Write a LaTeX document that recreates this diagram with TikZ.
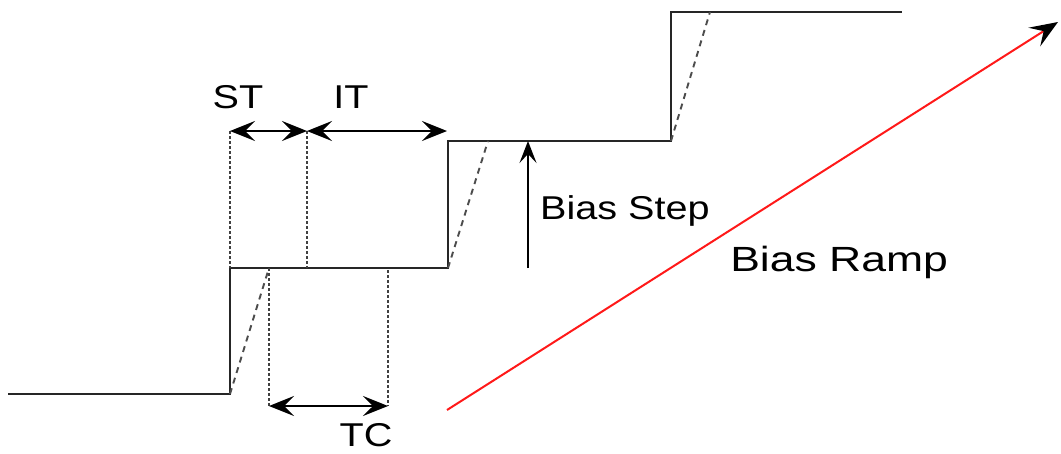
\documentclass[tikz,border=0pt]{standalone}
\usepackage{fontspec}
\setmainfont{Liberation Sans}
\usetikzlibrary{arrows.meta}
\begin{document}
\begin{tikzpicture}[x=1pt,y=-1pt,
  stair/.style={line width=2.8pt, black!85, line join=miter},
  slope/.style={line width=1.9pt, black!70, dash pattern=on 6pt off 5pt},
  guide/.style={line width=2pt, black!75, dash pattern=on 2.5pt off 2.5pt},
  span/.style={line width=1.9pt, {Stealth[length=25pt,width=20pt,inset=10pt]}-{Stealth[length=25pt,width=20pt,inset=10pt]}},
  lbl/.style={inner sep=0pt, font=\fontsize{33}{36}\selectfont, xscale=1.2},
]
\useasboundingbox (0,0) rectangle (1061,453);

% staircase corners
\coordinate (s0) at (8,394);
\coordinate (s1) at (230,394);
\coordinate (s2) at (230,268);
\coordinate (s3) at (448,268);
\coordinate (s4) at (448,141);
\coordinate (s5) at (671,141);
\coordinate (s6) at (671,12);
\coordinate (s7) at (902,12);
\draw[stair] (s0) -- (s1) -- (s2) -- (s3) -- (s4) -- (s5) -- (s6) -- (s7);

% finite-slew edges
\coordinate (r1) at (269,268);
\coordinate (r2) at (488,141);
\coordinate (r3) at (710,12);
\draw[slope] (s1) -- (r1);
\draw[slope] (s3) -- (r2);
\draw[slope] (s5) -- (r3);

% settling / integration time markers
\coordinate (st1) at (230,131);
\coordinate (st2) at (307,131);
\coordinate (it2) at (447,131);
\coordinate (sb) at (307,268);
\draw[guide] (st1) -- (s2);
\draw[guide] (st2) -- (sb);
\draw[span] (st1) -- (st2);
\draw[span] (st2) -- (it2);
\node[lbl] (st) at (238,97) {ST};
\node[lbl] (it) at (351,97) {IT};

% time constant markers
\coordinate (tc1) at (269,406);
\coordinate (tc2) at (388,406);
\coordinate (tt) at (388,270);
\draw[guide] (r1) -- (tc1);
\draw[guide] (tt) -- (tc2);
\draw[span] (tc1) -- (tc2);
\node[lbl] (tc) at (366,435) {TC};

% bias step
\coordinate (bs0) at (528,268);
\coordinate (bs1) at (528,141);
\draw[line width=1.9pt, -{Stealth[length=22pt,width=17pt,inset=9pt]}] (bs0) -- (bs1);
\node[lbl, anchor=west] (bstep) at (540,211) {Bias Step};

% bias ramp
\coordinate (br0) at (447,410);
\coordinate (br1) at (1058,22);
\draw[line width=2pt, red!90, -{Stealth[length=28pt,width=22pt,inset=11pt,color=black]}] (br0) -- (br1);
\node[lbl, anchor=west, font=\fontsize{35}{38}\selectfont, xscale=1.06] (bramp) at (730,262) {Bias Ramp};
\end{tikzpicture}
\end{document}
